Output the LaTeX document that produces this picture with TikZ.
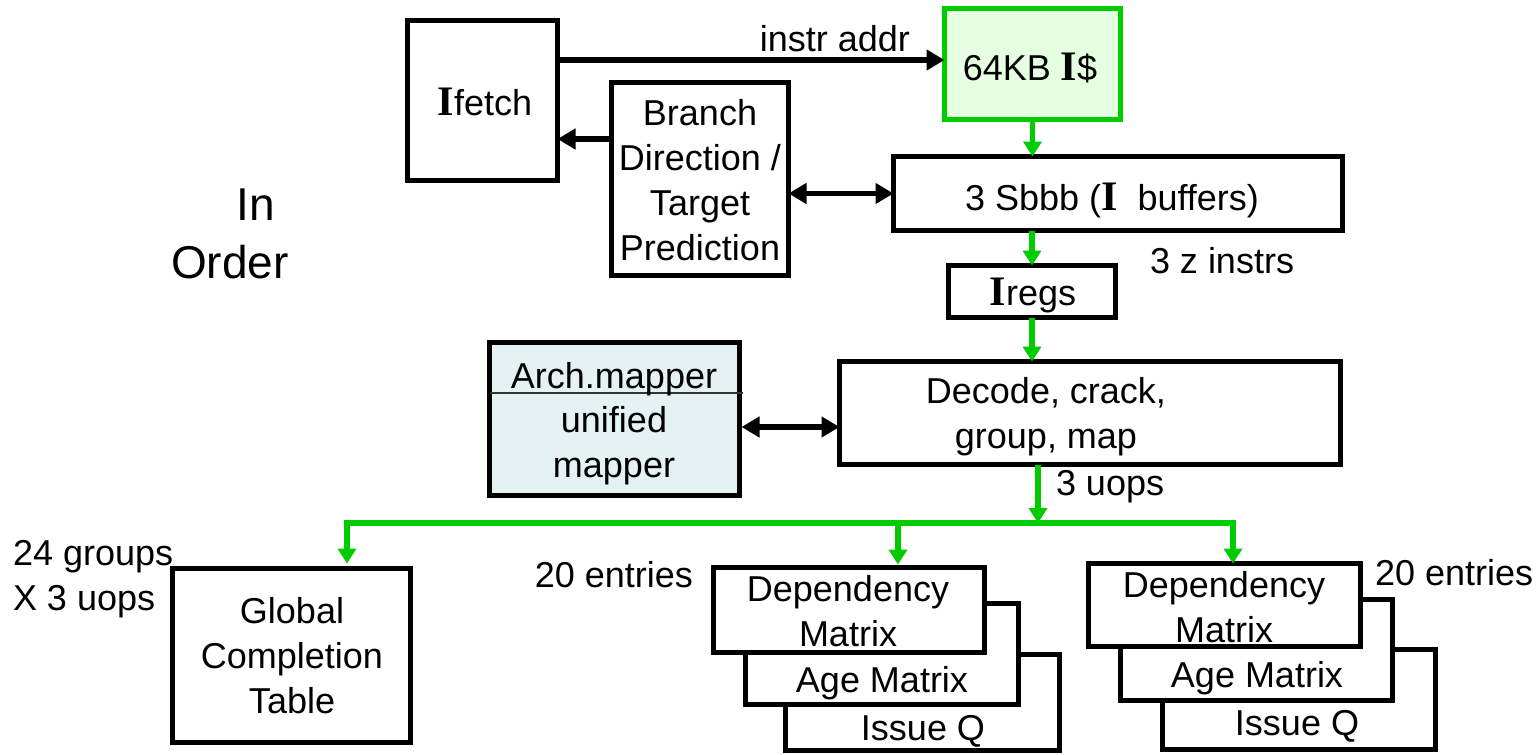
\documentclass[tikz,border=0pt]{standalone}
\usepackage{fontspec}
\setmainfont{Liberation Sans}
\newfontfamily\serI{Liberation Serif}
\usetikzlibrary{arrows.meta,calc}
\definecolor{grn}{RGB}{0,204,0}
\definecolor{cachefill}{RGB}{230,255,224}
\definecolor{mapfill}{RGB}{229,242,244}
\newcommand\Ich{{\serI\bfseries\fontsize{42}{45}\selectfont I}}
\begin{document}
\begin{tikzpicture}[x=1pt,y=-1pt,
  every node/.style={font=\fontsize{36}{45}\selectfont, inner sep=0pt, outer sep=0pt},
  box/.style={draw=black, line width=5.5pt, fill=white, rectangle},
  txt/.style={anchor=base, align=center},
  ltxt/.style={anchor=base west},
  rtxt/.style={anchor=base east},
  blk/.style={draw=black, line width=5.5pt, -{Triangle[length=18pt,width=20pt]}},
  blkdbl/.style={draw=black, line width=5.5pt, {Triangle[length=18pt,width=20pt]}-{Triangle[length=18pt,width=20pt]}},
  garr/.style={draw=grn, color=grn, line width=5.5pt, -{Triangle[length=15pt,width=18pt]}},
  gline/.style={draw=grn, line width=5.5pt}
]
\fill[white] (0,0) rectangle (1540,755);
\useasboundingbox (0,0) rectangle (1540,755);

% boxes
\node[box, minimum width=150pt, minimum height=160pt] (ifetch) at (482.5,100.5) {};
\node[box, draw=grn, fill=cachefill, minimum width=176pt, minimum height=111pt] (icache) at (1032.5,64) {};
\node[box, minimum width=177pt, minimum height=193pt] (branch) at (700,179) {};
\node[box, minimum width=449pt, minimum height=74pt] (sbbb) at (1118,193.5) {};
\node[box, minimum width=167pt, minimum height=52pt] (iregs) at (1032,291.5) {};
\node[box, fill=mapfill, minimum width=250pt, minimum height=153pt] (mapper) at (614.5,419) {};
\node[box, minimum width=501pt, minimum height=103pt] (decode) at (1090,413) {};
\node[box, minimum width=238pt, minimum height=174pt] (gct) at (291.5,655.5) {};
% stack 1
\node[box, minimum width=274pt, minimum height=96pt] (iq1) at (922.5,702.5) {};
\node[box, minimum width=273pt, minimum height=101pt] (age1) at (882,654) {};
\node[box, minimum width=271pt, minimum height=85pt] (dep1) at (849,610) {};
% stack 2
\node[box, minimum width=273pt, minimum height=100pt] (iq2) at (1299,699.5) {};
\node[box, minimum width=272pt, minimum height=101pt] (age2) at (1256.5,650) {};
\node[box, minimum width=272pt, minimum height=83pt] (dep2) at (1224.5,605) {};

% mapper divider
\draw[line width=2pt, black!80] ([yshift=-50.5pt]mapper.north west) -- ([yshift=-50.5pt,xshift=3pt]mapper.north east);

% texts
\node[txt] (tifetch) at (485,115) {\Ich fetch};
\node[rtxt] (tinstr) at (910,51) {instr addr};
\node[txt] (ticache) at (1030,80) {64KB \Ich\$};
\node[txt] (tbranch) at (700,260) {Branch\\Direction /\\Target\\Prediction};
\node[txt, font=\fontsize{46}{58}\selectfont] (tin) at (256,220) {In};
\node[txt, font=\fontsize{46}{58}\selectfont] (torder) at (230,278) {Order};
\node[txt] (tsbbb) at (1112,210) {3 Sbbb (\Ich\ \ buffers)};
\node[ltxt] (tzin) at (1150,273) {3 z instrs};
\node[txt] (tiregs) at (1033,305) {\Ich regs};
\node[txt] (tarch) at (614,388) {Arch.mapper};
\node[txt] (tunif) at (614,477) {unified\\mapper};
\node[txt] (tdecode) at (1046,448) {Decode, crack,\\group, map};
\node[ltxt] (tuops) at (1056,495) {3 uops};
\node[ltxt] (tgroups) at (13,565) {24 groups};
\node[ltxt] (tx3) at (13,610) {X 3 uops};
\node[txt] (tgct) at (292,713) {Global\\Completion\\Table};
\node[rtxt] (tent1) at (693,587) {20 entries};
\node[ltxt] (tent2) at (1375,585) {20 entries};
\node[txt] (tdep1) at (848,646) {Dependency\\Matrix};
\node[txt] (tage1) at (882,692) {Age Matrix};
\node[txt] (tiq1) at (923,740) {Issue Q};
\node[txt] (tdep2) at (1224,642) {Dependency\\Matrix};
\node[txt] (tage2) at (1257,687) {Age Matrix};
\node[txt] (tiq2) at (1297,735) {Issue Q};

% black connectors
\draw[blk] ([yshift=4pt]ifetch.east |- icache.west) -- ([yshift=4pt]icache.west);
\draw[blk] ([yshift=40pt]branch.west) -- ([yshift=40pt]branch.west -| ifetch.east);
\draw[blkdbl] (branch.east |- sbbb.west) -- (sbbb.west);
\draw[blkdbl] ([yshift=-8pt,xshift=2pt]mapper.east) -- ([yshift=-8pt]mapper.east -| decode.west);

% green connectors
\draw[garr] (icache.south) -- (icache.south |- sbbb.north);
\draw[garr] (iregs.north |- sbbb.south) -- (iregs.north);
\draw[garr] (iregs.south) -- (iregs.south |- decode.north);
\coordinate (busL) at (347,523);
\coordinate (busM) at (898,523);
\coordinate (busR) at (1233,523);
\draw[garr] ([xshift=-52pt]decode.south) -- ([xshift=-52pt]decode.south |- busL);
\draw[gline] ([xshift=-2.75pt]busL) -- ([xshift=2.75pt]busR);
\draw[garr] (busL) -- ([yshift=5pt]busL |- gct.north);
\draw[garr] (busM) -- ([yshift=3pt]busM |- dep1.north);
\draw[garr] (busR) -- (busR |- dep2.north);
\end{tikzpicture}
\end{document}
